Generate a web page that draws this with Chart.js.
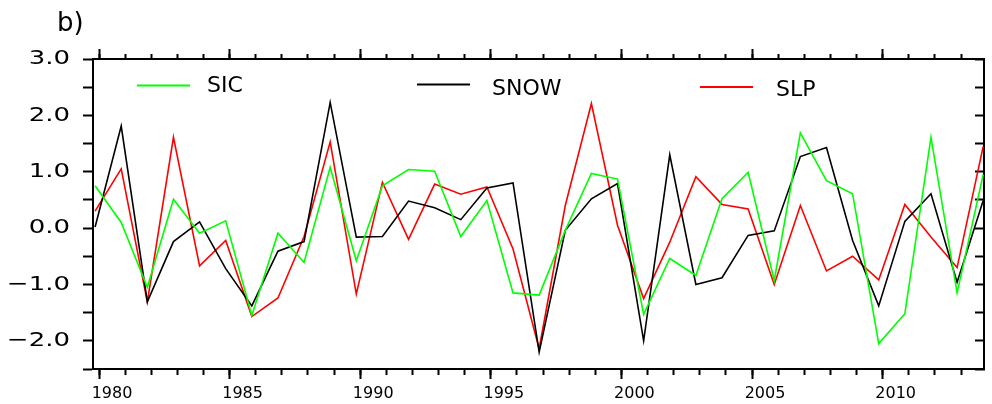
<!DOCTYPE html>
<html><head><meta charset="utf-8">
<script src="https://cdn.jsdelivr.net/npm/chart.js@4/dist/chart.umd.min.js"></script>
<style>html,body{margin:0;padding:0;background:#fff}#wrap{width:992px;height:404px}canvas{display:block}</style>
</head><body><div id="wrap"><canvas id="c" width="992" height="404"></canvas></div>
<script>
// ---- data ----
const years = [1979,1980,1981,1982,1983,1984,1985,1986,1987,1988,1989,1990,1991,1992,1993,1994,1995,1996,1997,1998,1999,2000,2001,2002,2003,2004,2005,2006,2007,2008,2009,2010,2011,2012,2013];
const sic  = [0.75,0.10,-1.05,0.51,-0.09,0.13,-1.55,-0.09,-0.61,1.08,-0.58,0.75,1.04,1.01,-0.15,0.49,-1.15,-1.19,-0.04,0.97,0.87,-1.53,-0.54,-0.84,0.52,0.99,-0.93,1.69,0.84,0.61,-2.05,-1.52,1.61,-1.15,0.95];
const snow = [0.02,1.81,-1.31,-0.24,0.11,-0.72,-1.38,-0.41,-0.24,2.23,-0.16,-0.15,0.48,0.36,0.15,0.71,0.80,-2.20,-0.04,0.52,0.79,-2.00,1.30,-1.00,-0.88,-0.13,-0.05,1.27,1.43,-0.22,-1.38,0.12,0.61,-0.96,0.49];
const slp  = [0.30,1.05,-1.31,1.61,-0.67,-0.22,-1.57,-1.24,-0.15,1.53,-1.17,0.81,-0.20,0.78,0.60,0.73,-0.37,-2.14,0.40,2.21,0.05,-1.25,-0.25,0.91,0.42,0.34,-1.00,0.40,-0.76,-0.50,-0.92,0.42,-0.16,-0.70,1.45];
const seriesNames = ['SIC','SNOW','SLP'];
const seriesColors = ['#00ff00','#000000','#ff0000'];
const xLabelYears = [1980,1985,1990,1995,2000,2005,2010];
const yLabelValues = [-2,-1,0,1,2,3];
const panelLabel = 'b)';

// ---- layout / style ----
const xShift = 0.85;          // points sit slightly left of the year ticks
const XMIN = 1979.77, XMAX = 2013.88;
const YMIN = -2.5, YMAX = 3.0;
const FONT = 'DejaVu Sans';

function pts(vals){ return years.map((y,i)=>({x:y+xShift, y:vals[i]})); }
const allSeries = [sic, snow, slp];

const fmtY = v => yLabelValues.includes(v) ? (v<0?'\u2212':'') + Math.abs(v).toFixed(1) : '';
const fmtX = v => xLabelYears.includes(v) ? String(v) : '';

const gridBase = {drawOnChartArea:false, drawTicks:true, tickWidth:2, tickColor:'#000'};
const borderBase = {display:true, color:'#000', width:2};

const legendPos = [
  {x1:137, x2:190, ly:85.5, tx:207, ty:91.5},
  {x1:417, x2:470, ly:84.5, tx:492, ty:94.5},
  {x1:700, x2:753, ly:87,   tx:776, ty:96}
];

const stretchY = {
  id:'stretchY',
  beforeDraw(chart){
    const s = chart.scales.y;
    if(!s._stretched){
      const orig = s.drawLabels;
      s.drawLabels = function(area){
        const ctx = this.ctx; const p = this.right - 23;
        ctx.save(); ctx.translate(p,0); ctx.scale(1.3,1); ctx.translate(-p,0);
        orig.call(this, area);
        ctx.restore();
      };
      s._stretched = true;
    }
  }
};

const innerLegend = {
  id:'innerLegend',
  afterDraw(chart){
    const ctx = chart.ctx;
    ctx.save();
    chart.data.datasets.forEach((ds,i)=>{
      const p = legendPos[i];
      ctx.strokeStyle = ds.borderColor; ctx.lineWidth = 2;
      ctx.beginPath(); ctx.moveTo(p.x1,p.ly); ctx.lineTo(p.x2,p.ly); ctx.stroke();
      ctx.fillStyle = '#000'; ctx.font = '22px "'+FONT+'"';
      ctx.textAlign = 'left'; ctx.textBaseline = 'alphabetic';
      ctx.fillText(ds.label, p.tx, p.ty);
    });
    ctx.font = '26px "'+FONT+'"'; ctx.fillStyle = '#000';
    ctx.textAlign = 'left'; ctx.textBaseline = 'alphabetic';
    ctx.fillText(panelLabel, 57, 31);
    ctx.restore();
  }
};

new Chart(document.getElementById('c'), {
  type:'line',
  data:{
    datasets: seriesNames.map((n,i)=>({
      label:n, data:pts(allSeries[i]), borderColor:seriesColors[i], backgroundColor:seriesColors[i],
      borderWidth:1.6, pointRadius:0, tension:0, fill:false
    }))
  },
  options:{
    responsive:false, animation:false, devicePixelRatio:1,
    layout:{padding:0},
    plugins:{legend:{display:false}, tooltip:{enabled:false}, title:{display:false}},
    scales:{
      x:{type:'linear', position:'bottom', weight:1, min:XMIN, max:XMAX,
         ticks:{stepSize:5, includeBounds:false, autoSkip:false, maxRotation:0, callback:fmtX,
                font:{family:FONT, size:16}, color:'#000', padding:5, labelOffset:13},
         grid:{...gridBase, tickLength:10}, border:borderBase,
         afterFit:s=>{s.height=35;}},
      xMinor:{type:'linear', position:'bottom', weight:0, min:XMIN, max:XMAX,
         ticks:{display:false, stepSize:1, includeBounds:false, autoSkip:false},
         grid:{...gridBase, tickLength:6}, border:borderBase,
         afterFit:s=>{s.height=0;}},
      xTop:{type:'linear', position:'top', weight:1, min:XMIN, max:XMAX,
         ticks:{display:false, stepSize:5, includeBounds:false, autoSkip:false},
         grid:{...gridBase, tickLength:10}, border:borderBase,
         afterFit:s=>{s.height=59;}},
      xTopMinor:{type:'linear', position:'top', weight:0, min:XMIN, max:XMAX,
         ticks:{display:false, stepSize:1, includeBounds:false, autoSkip:false},
         grid:{...gridBase, tickLength:5}, border:borderBase,
         afterFit:s=>{s.height=0;}},
      y:{type:'linear', position:'left', min:YMIN, max:YMAX,
         ticks:{stepSize:0.5, includeBounds:false, autoSkip:false, callback:fmtY,
                font:{family:FONT, size:20}, color:'#000', padding:13},
         grid:{...gridBase, tickLength:10}, border:borderBase,
         afterFit:s=>{s.width=93;}},
      y2:{type:'linear', position:'right', min:YMIN, max:YMAX,
         ticks:{display:false, stepSize:0.5, includeBounds:false, autoSkip:false},
         grid:{...gridBase, tickLength:-9}, border:borderBase,
         afterFit:s=>{s.width=8;}}
    }
  },
  plugins:[stretchY, innerLegend]
});
</script>
</body></html>
